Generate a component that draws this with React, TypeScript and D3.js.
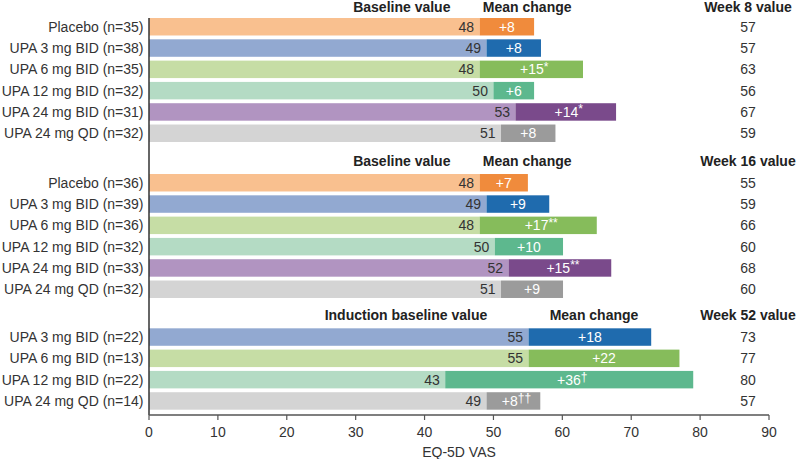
import React from "react";
import * as d3 from "d3";

// ---------- data ----------
const groups8 = ["Placebo (n=35)", "UPA 3 mg BID (n=38)", "UPA 6 mg BID (n=35)", "UPA 12 mg BID (n=32)", "UPA 24 mg BID (n=31)", "UPA 24 mg QD (n=32)"];
const treat8 = ["pbo", "3bid", "6bid", "12bid", "24bid", "24qd"];
const baseline8 = [48, 49, 48, 50, 53.2, 51.1];
const change8 = [7.9, 7.9, 15, 5.9, 14.6, 7.9];
const changeLabel8 = ["+8", "+8", "+15", "+6", "+14", "+8"];
const changeMark8 = ["", "", "*", "", "*", ""];
const week8 = [57, 57, 63, 56, 67, 59];

const groups16 = ["Placebo (n=36)", "UPA 3 mg BID (n=39)", "UPA 6 mg BID (n=36)", "UPA 12 mg BID (n=32)", "UPA 24 mg BID (n=33)", "UPA 24 mg QD (n=32)"];
const treat16 = ["pbo", "3bid", "6bid", "12bid", "24bid", "24qd"];
const baseline16 = [48, 49, 48, 50.2, 52.2, 51.1];
const change16 = [7, 9.1, 17, 9.9, 14.9, 9];
const changeLabel16 = ["+7", "+9", "+17", "+10", "+15", "+9"];
const changeMark16 = ["", "", "**", "", "**", ""];
const week16 = [55, 59, 66, 60, 68, 60];

const groups52 = ["UPA 3 mg BID (n=22)", "UPA 6 mg BID (n=13)", "UPA 12 mg BID (n=22)", "UPA 24 mg QD (n=14)"];
const treat52 = ["3bid", "6bid", "12bid", "24qd"];
const baseline52 = [55.1, 55.1, 43, 49];
const change52 = [17.8, 21.9, 36, 7.8];
const changeLabel52 = ["+18", "+22", "+36", "+8"];
const changeMark52 = ["", "", "†", "††"];
const week52 = [73, 77, 80, 57];

const sectionHeaders = [
  ["Baseline value", "Mean change", "Week 8 value"],
  ["Baseline value", "Mean change", "Week 16 value"],
  ["Induction baseline value", "Mean change", "Week 52 value"],
];
const xTicks = [0, 10, 20, 30, 40, 50, 60, 70, 80, 90];
const xTitle = "EQ-5D VAS";

const lightColor: Record<string, string> = {
  pbo: "#F9C08F", "3bid": "#92A9D1", "6bid": "#C6DDA5", "12bid": "#B4DBC4", "24bid": "#B194C1", "24qd": "#D4D4D4",
};
const darkColor: Record<string, string> = {
  pbo: "#F08B3C", "3bid": "#1F6BAE", "6bid": "#86BC5B", "12bid": "#5DB88E", "24bid": "#7A4A8B", "24qd": "#9B9B9B",
};

const W = 796, H = 459;
const FONT = "'Liberation Sans', Arial, Helvetica, sans-serif";
const TEXT = "#333333";

export default function App() {
  const x = d3.scaleLinear().domain([0, 90]).range([149, 769]);
  const step = 21.3;
  const sections = [
    { top: 18, groups: groups8, treat: treat8, base: baseline8, chg: change8, lab: changeLabel8, mark: changeMark8, wk: week8, hdr: sectionHeaders[0], hx: [36.7, 54.9, 86.95], hy: 7 },
    { top: 174, groups: groups16, treat: treat16, base: baseline16, chg: change16, lab: changeLabel16, mark: changeMark16, wk: week16, hdr: sectionHeaders[1], hx: [36.7, 54.9, 86.95], hy: 161 },
    { top: 328.3, groups: groups52, treat: treat52, base: baseline52, chg: change52, lab: changeLabel52, mark: changeMark52, wk: week52, hdr: sectionHeaders[2], hx: [37.3, 64.6, 86.95], hy: 315 },
  ];
  const axisY = 415;
  const weekX = x(86.95);

  return (
    <svg width={W} height={H} style={{ position: "absolute", left: 0, top: 0, background: "#fff" }} fontFamily={FONT}>
      {sections.map((s, si) => {
        const n = s.groups.length;
        const y = d3.scaleBand<number>().domain(d3.range(n)).range([s.top - 1.9, s.top - 1.9 + n * step]).paddingInner(0.18).paddingOuter(0.09);
        return (
          <g key={si}>
            {s.hdr.map((h, hi) => (
              <text key={hi} x={x(s.hx[hi])} y={s.hy} dy="0.35em" textAnchor="middle" fontWeight="bold" fontSize={14} fill="#222">{h}</text>
            ))}
            {s.groups.map((g, i) => {
              const y0 = y(i)!;
              const bh = y.bandwidth();
              const cy = y0 + bh / 2;
              const b = s.base[i];
              const e = b + s.chg[i];
              return (
                <g key={i}>
                  <text x={143.5} y={cy} dy="0.35em" textAnchor="end" fontSize={14} fill={TEXT}>{g}</text>
                  <rect x={x(0)} y={y0} width={x(b) - x(0)} height={bh} fill={lightColor[s.treat[i]]} />
                  <rect x={x(b)} y={y0} width={x(e) - x(b)} height={bh} fill={darkColor[s.treat[i]]} />
                  <text x={x(b) - 5.5} y={cy} dy="0.35em" textAnchor="end" fontSize={14} fill={TEXT}>{Math.round(b)}</text>
                  <text x={(x(b) + x(e)) / 2 + (s.mark[i] ? 3 : 0)} y={cy} dy="0.35em" textAnchor="middle" fontSize={14} fill="#fff">
                    {s.lab[i]}
                    {s.mark[i] ? <tspan fontSize={12} dy="-0.3em">{s.mark[i]}</tspan> : null}
                  </text>
                  <text x={weekX} y={cy} dy="0.35em" textAnchor="middle" fontSize={14} fill={TEXT}>{s.wk[i]}</text>
                </g>
              );
            })}
          </g>
        );
      })}
      {/* y axis line */}
      <line x1={x(0)} x2={x(0)} y1={18} y2={axisY} stroke="#333" strokeWidth={1.5} />
      {/* x axis */}
      <line x1={x(0)} x2={x(90)} y1={axisY} y2={axisY} stroke="#555" strokeWidth={1.5} />
      {xTicks.map((t) => (
        <g key={t}>
          <line x1={x(t)} x2={x(t)} y1={axisY} y2={axisY + 5} stroke="#555" strokeWidth={1.2} />
          <text x={x(t)} y={432} dy="0.35em" textAnchor="middle" fontSize={14} fill={TEXT}>{t}</text>
        </g>
      ))}
      <text x={x(45)} y={452} dy="0.35em" textAnchor="middle" fontSize={14} fill={TEXT}>{xTitle}</text>
    </svg>
  );
}
